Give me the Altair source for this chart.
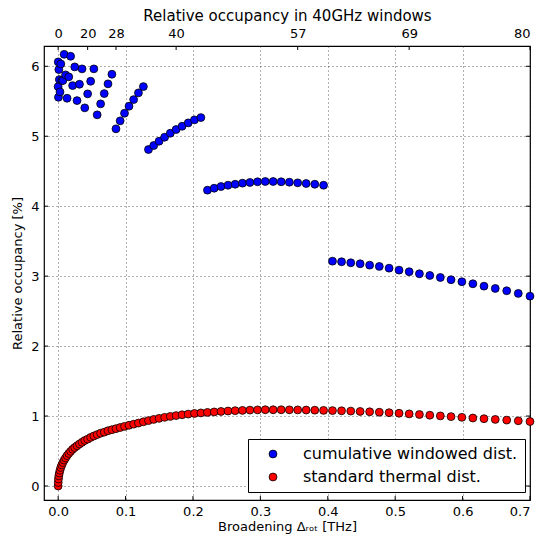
import altair as alt
import pandas as pd

# ---- data ----
x_vals = [0.0, 0.00011, 0.00044, 0.00098, 0.00175, 0.00273, 0.00394, 0.00536, 0.0070, 0.00886,
          0.01094, 0.01323, 0.01575, 0.01848, 0.02144, 0.02461, 0.0280, 0.03161, 0.03544, 0.03948,
          0.04375, 0.04823, 0.05294, 0.05786, 0.0630, 0.06836, 0.07394, 0.07973, 0.08575, 0.09198,
          0.09844, 0.10511, 0.1120, 0.11911, 0.12644, 0.13398, 0.14175, 0.14973, 0.15794, 0.16636,
          0.175, 0.18386, 0.19294, 0.20223, 0.21175, 0.22148, 0.23144, 0.24161, 0.252, 0.26261,
          0.27344, 0.28448, 0.29575, 0.30723, 0.31894, 0.33086, 0.343, 0.35536, 0.36794, 0.38073,
          0.39375, 0.40698, 0.42044, 0.43411, 0.448, 0.46211, 0.47644, 0.49098, 0.50575, 0.52073,
          0.53594, 0.55136, 0.567, 0.58286, 0.59894, 0.61523, 0.63175, 0.64848, 0.66544, 0.68261, 0.7]

blue_vals = [5.709, 6.063, 5.557, 5.953, 5.810, 5.634, 6.034, 5.796, 5.796, 6.171,
             5.877, 5.543, 5.849, 6.143, 5.724, 5.991, 5.51, 5.743, 5.963, 5.406,
             5.606, 5.786, 5.963, 5.306, 5.463, 5.61, 5.749, 5.886,
             5.106, 5.22, 5.329, 5.429, 5.524, 5.62, 5.71,
             4.81, 4.867, 4.929, 4.986, 5.043, 5.096, 5.143, 5.191, 5.234, 5.267,
             4.229, 4.257, 4.281, 4.3, 4.314, 4.329, 4.339, 4.349, 4.353, 4.353,
             4.349, 4.343, 4.334, 4.324, 4.314, 4.3,
             3.214, 3.206, 3.191, 3.177, 3.157, 3.139, 3.114, 3.086, 3.063, 3.034,
             3.01, 2.981, 2.949, 2.92, 2.891, 2.857, 2.824, 2.791, 2.753, 2.714]

red_vals = [0.0, 0.05, 0.10, 0.145, 0.185, 0.225, 0.265, 0.30, 0.335, 0.37,
            0.40, 0.435, 0.465, 0.495, 0.525, 0.55, 0.575, 0.60, 0.625, 0.65,
            0.67, 0.695, 0.715, 0.735, 0.755, 0.77, 0.79, 0.805, 0.82, 0.836,
            0.852, 0.868, 0.884, 0.90, 0.918, 0.935, 0.952, 0.967, 0.982, 0.995,
            1.007, 1.018, 1.028, 1.037, 1.045, 1.052, 1.059, 1.066, 1.072, 1.077,
            1.081, 1.085, 1.088, 1.090, 1.090, 1.090, 1.089, 1.088, 1.086, 1.084,
            1.081, 1.078, 1.075, 1.071, 1.066, 1.061, 1.055, 1.048, 1.040, 1.031,
            1.022, 1.012, 1.002, 0.992, 0.982, 0.972, 0.962, 0.952, 0.942, 0.932, 0.922]

series_names = ["cumulative windowed dist.", "standard thermal dist."]
series_colors = ["#0000ff", "#ff0000"]

x_ticks = [0.0, 0.1, 0.2, 0.3, 0.4, 0.5, 0.6, 0.7]
y_ticks = [0, 1, 2, 3, 4, 5, 6]
top_index = [0, 20, 28, 40, 57, 69, 80]
top_labels = ["0", "20", "28", "40", "57", "69", "80"]

# ---- build tables ----
df = pd.DataFrame({
    "x": x_vals * 2,
    "y": blue_vals + red_vals,
    "series": [series_names[0]] * len(x_vals) + [series_names[1]] * len(x_vals),
})
top_pos = [x_vals[i] for i in top_index]

W, H = 486, 454
FONT = "DejaVu Sans"
xdom = [-0.021, 0.7]
ydom = [-0.2, 6.29]

def xs():
    return alt.Scale(domain=xdom, nice=False, zero=False)

def ys():
    return alt.Scale(domain=ydom, nice=False, zero=False)

x_axis = alt.Axis(values=x_ticks, format=".1f", title="Broadening Δᵣₒₜ [THz]", grid=True,
                  ticks=False, domain=False, labelPadding=5, titlePadding=2)
y_axis = alt.Axis(values=y_ticks, format="d", title="Relative occupancy [%]", grid=True,
                  ticks=False, domain=False, labelPadding=5, titlePadding=6)

points = alt.Chart(df).mark_circle(size=62, stroke="black", strokeWidth=0.8, opacity=1).encode(
    x=alt.X("x:Q", scale=xs(), axis=x_axis),
    y=alt.Y("y:Q", scale=ys(), axis=y_axis),
    fill=alt.Fill("series:N", scale=alt.Scale(domain=series_names, range=series_colors),
                  legend=alt.Legend(orient="none", legendX=204, legendY=393, title=None,
                                    strokeColor="black", fillColor="white", padding=7,
                                    labelFontSize=16, labelFont=FONT, labelColor="black",
                                    labelLimit=0,
                                    symbolType="circle", symbolSize=62,
                                    symbolStrokeColor="black", symbolStrokeWidth=0.8,
                                    symbolOffset=10, labelOffset=22, rowPadding=7,
                                    cornerRadius=0)),
)

bx = pd.DataFrame({"x": x_ticks})
by = pd.DataFrame({"y": y_ticks})
tx = pd.DataFrame({"x": top_pos})
tick_style = dict(color="black", strokeWidth=1)
bottom_ticks = alt.Chart(bx).mark_rule(**tick_style).encode(
    x=alt.X("x:Q", scale=xs(), axis=x_axis), y=alt.value(H), y2=alt.value(H - 4))
left_ticks = alt.Chart(by).mark_rule(**tick_style).encode(
    y=alt.Y("y:Q", scale=ys(), axis=y_axis), x=alt.value(0), x2=alt.value(4))
right_ticks = alt.Chart(by).mark_rule(**tick_style).encode(
    y=alt.Y("y:Q", scale=ys(), axis=y_axis), x=alt.value(W - 4), x2=alt.value(W))
top_ticks = alt.Chart(tx).mark_rule(**tick_style).encode(
    x=alt.X("x:Q", scale=xs(), axis=x_axis), y=alt.value(0), y2=alt.value(4))

# label expression for the top axis
mids = [(top_pos[i] + top_pos[i + 1]) / 2 for i in range(len(top_pos) - 1)]
expr = "'" + top_labels[-1] + "'"
for m, lab in reversed(list(zip(mids, top_labels[:-1]))):
    expr = f"datum.value < {m} ? '{lab}' : ({expr})"

top_axis = alt.Chart(pd.DataFrame({"p": top_pos})).mark_point(opacity=0).encode(
    x=alt.X("p:Q", scale=xs(), axis=alt.Axis(
        orient="top", values=top_pos, labelExpr=expr,
        title="Relative occupancy in 40GHz windows", titleFontSize=15,
        grid=False, ticks=False, domain=False, labelPadding=6, titlePadding=4)),
)

main = alt.layer(points, bottom_ticks, left_ticks, right_ticks, top_ticks)
chart = alt.layer(main, top_axis).resolve_scale(x="independent").properties(
    width=W, height=H,
    autosize=alt.AutoSizeParams(type="none"),
    padding={"left": 44, "top": 46, "right": 17, "bottom": 37},
).configure(font=FONT).configure_view(
    stroke="black", strokeWidth=1.2
).configure_axis(
    labelFont=FONT, titleFont=FONT, labelFontSize=13, titleFontSize=13,
    labelColor="black", titleColor="black", titleFontWeight="normal",
    gridColor="black", gridDash=[1, 3], gridWidth=0.7, gridOpacity=0.9,
)

chart.save("out.html", embed_options={"renderer": "svg", "actions": False})
